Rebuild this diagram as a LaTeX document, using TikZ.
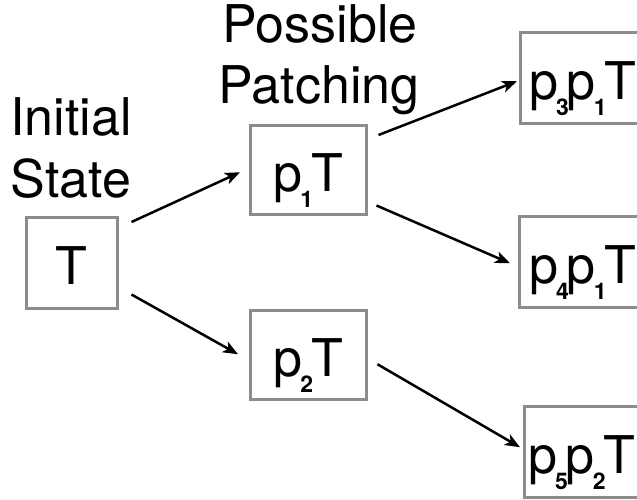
\documentclass[tikz,border=0pt]{standalone}
\usepackage{fontspec}
\setmainfont{TeX Gyre Heros}
\usetikzlibrary{arrows.meta}
\definecolor{boxgray}{RGB}{140,140,140}
\newcommand{\sbs}[1]{\kern-2pt\raisebox{-16pt}{\fontsize{23}{23}\selectfont\bfseries #1}\kern-2pt}
\begin{document}
\begin{tikzpicture}[x=1pt,y=-1pt,
  every node/.style={font=\fontsize{52}{62}\selectfont, inner sep=0pt},
  statebox/.style={draw=boxgray, line width=2.5pt, rectangle, anchor=north west,
    text height=43pt, text depth=0pt},
  leftbox/.style={statebox, align=left, minimum height=91pt},
  lbl/.style={anchor=base},
  arr/.style={-{Stealth[length=15pt,width=12pt,inset=4pt]}, line width=2.5pt, black}]
\useasboundingbox (0,0) rectangle (637,499);
% labels
\node[lbl] (ini) at (71,135) {Initial};
\node[lbl] (sta) at (71,197) {State};
\node[lbl] (pos) at (320,42) {Possible};
\node[lbl] (pat) at (319,103) {Patching};
% boxes
\node[statebox, minimum width=91pt, minimum height=91pt] (T) at (25,216) {T};
\node[statebox, minimum width=116pt, minimum height=89pt] (p1) at (249,124) {p\sbs{1}T};
\node[statebox, minimum width=116pt, minimum height=89pt] (p2) at (249,309) {p\sbs{2}T};
\node[leftbox, inner xsep=9pt, text width=122pt] (p3) at (519,31) {p\sbs{3}p\sbs{1}T};
\node[leftbox, inner xsep=10pt, text width=120pt] (p4) at (518,215) {p\sbs{4}p\sbs{1}T};
\node[leftbox, inner xsep=4pt, text width=132pt] (p5) at (523,405) {p\sbs{5}p\sbs{2}T};
% arrows
\draw[arr] ([shift={(13,6)}]T.north east) -- ([shift={(-9,2.5)}]p1.west);
\draw[arr] ([shift={(13,-15)}]T.south east) -- ([shift={(-11,-0.5)}]p2.west);
\draw[arr] ([shift={(11,11)}]p1.north east) -- ([shift={(-2,3.5)}]p3.west);
\draw[arr] ([shift={(9,-10)}]p1.south east) -- ([shift={(-8,1.5)}]p4.west);
\draw[arr] ([shift={(10,9.5)}]p2.east) -- ([shift={(-3,-4.5)}]p5.west);
\end{tikzpicture}
\end{document}
